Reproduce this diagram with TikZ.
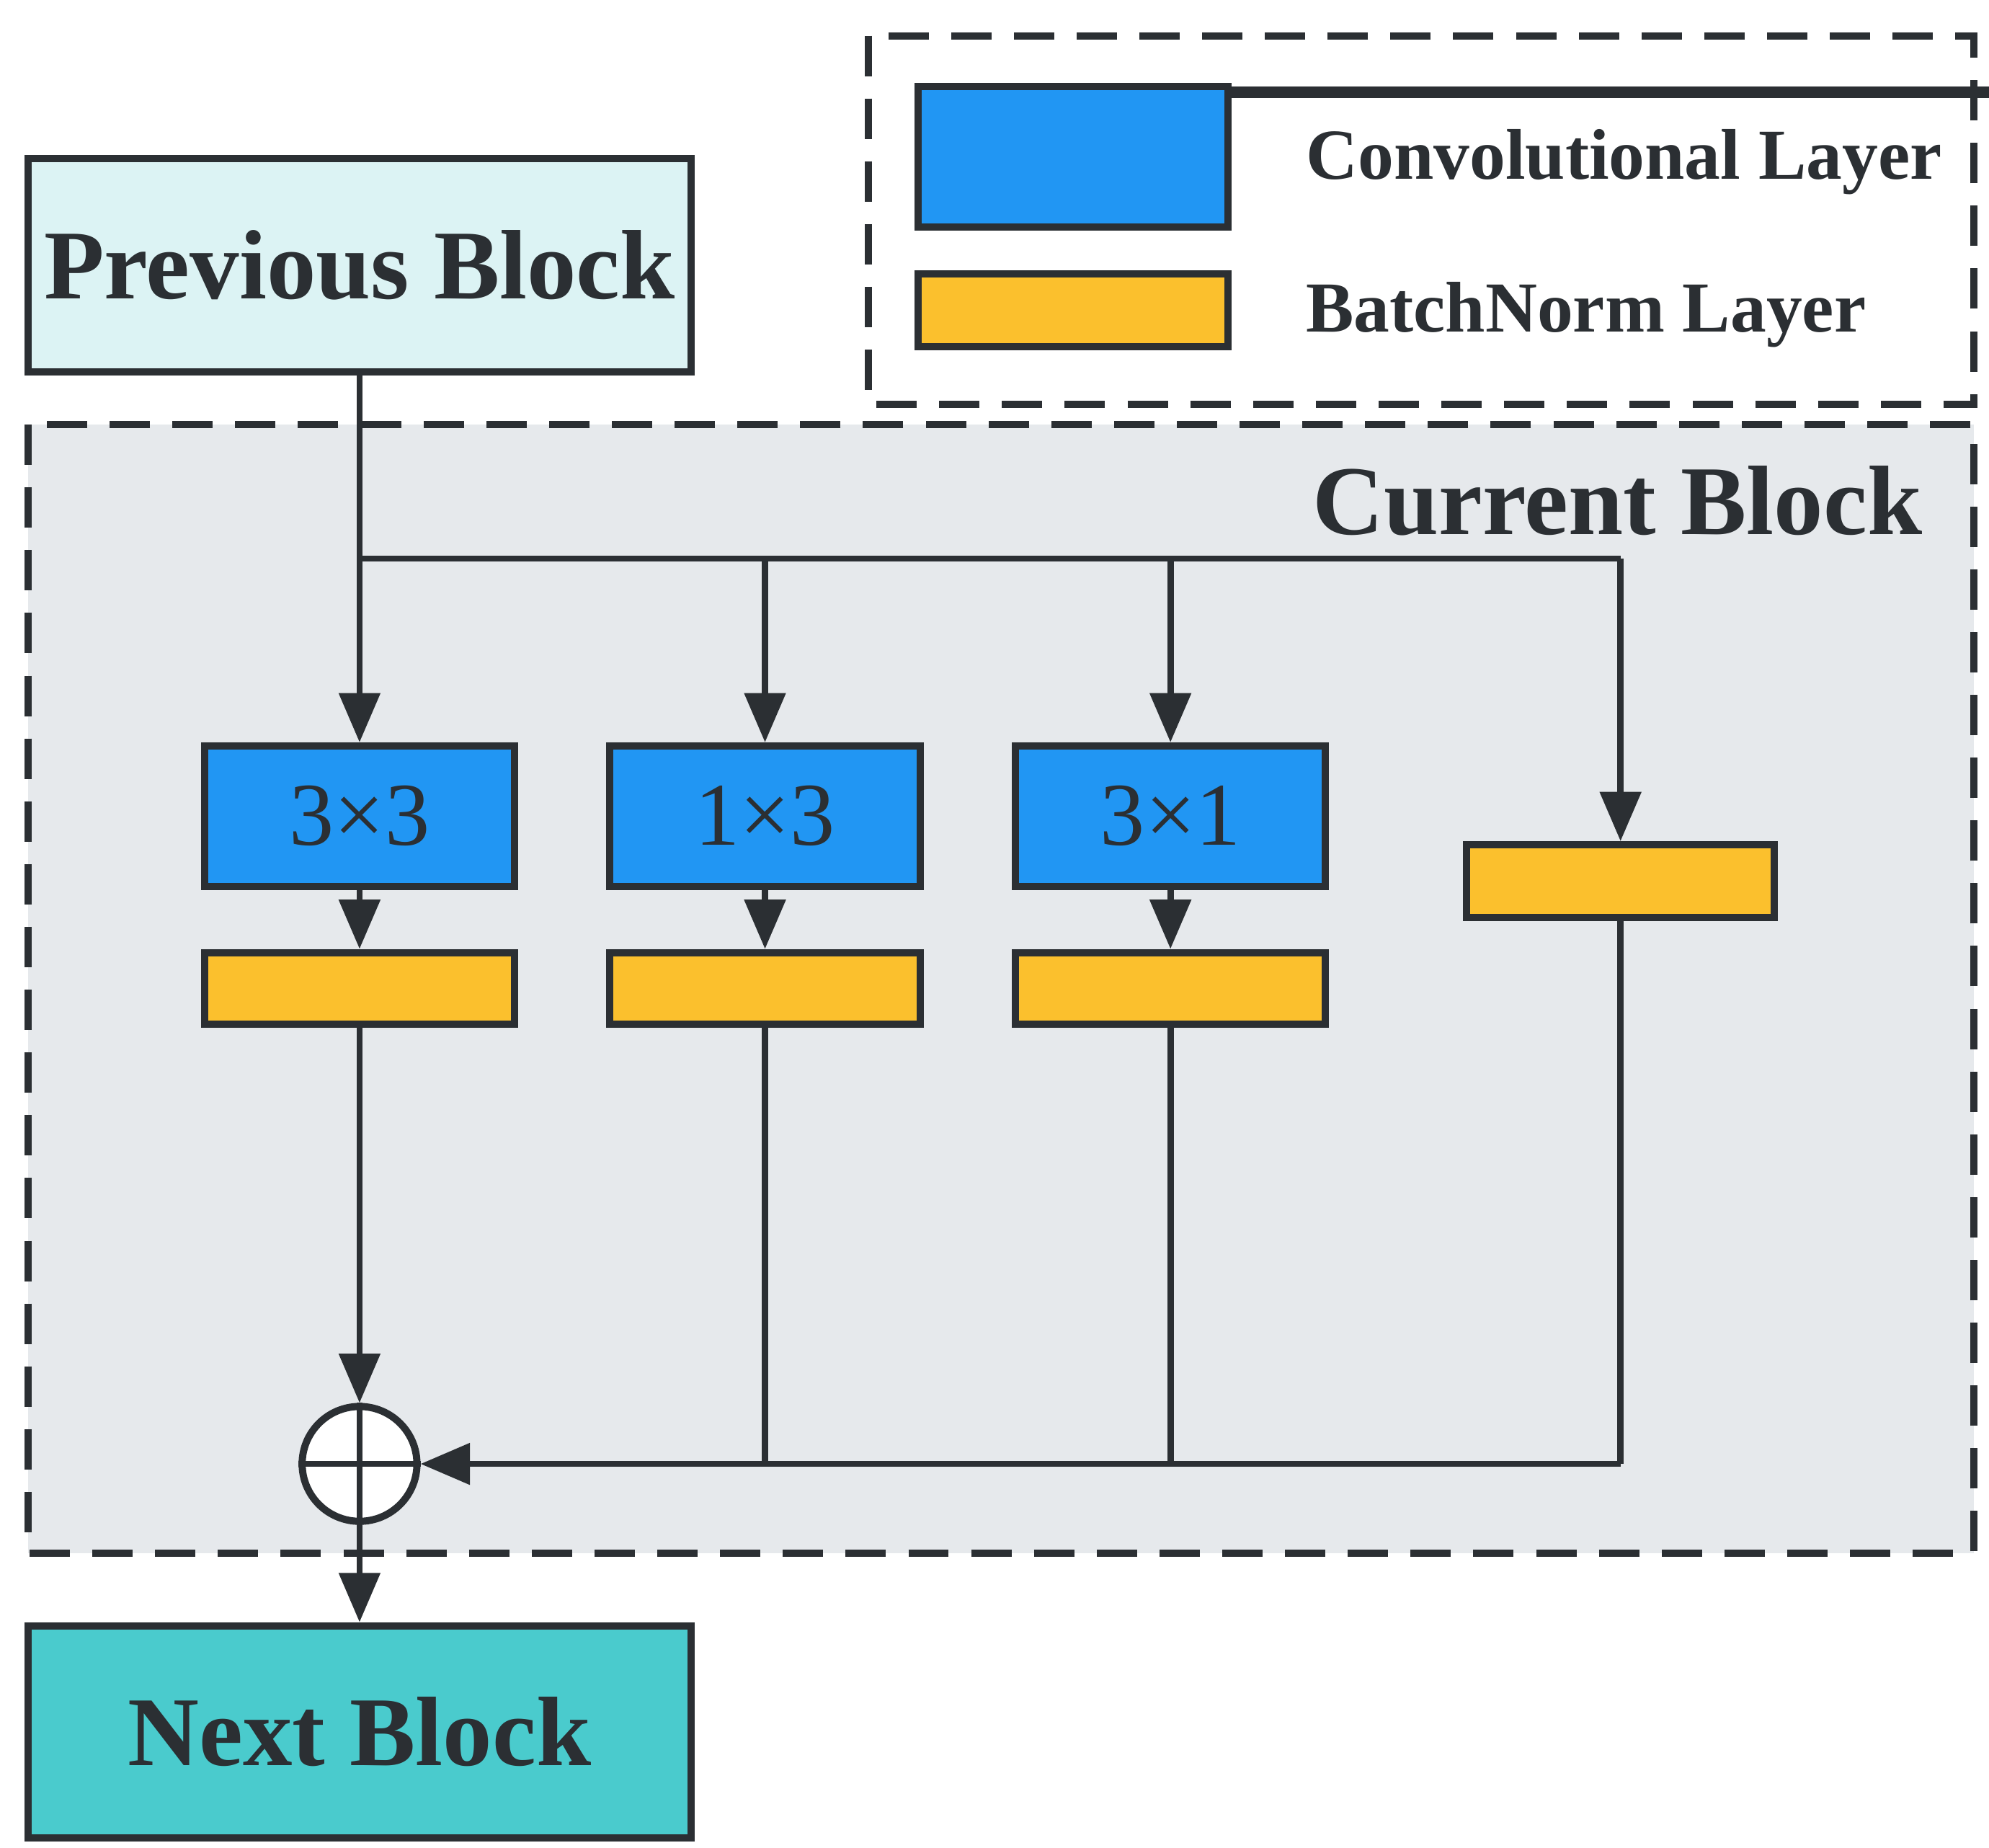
\documentclass[tikz,border=0pt]{standalone}
\usepackage{fontspec}
\setmainfont{Liberation Serif}
\usetikzlibrary{arrows.meta}
\definecolor{ln}{HTML}{2B2F33}
\definecolor{conv}{HTML}{2196F3}
\definecolor{bn}{HTML}{FBC02D}
\definecolor{prev}{HTML}{DCF3F4}
\definecolor{nextc}{HTML}{4ACBCD}
\definecolor{cur}{HTML}{E6E9EC}
\begin{document}
\begin{tikzpicture}[x=0.01cm,y=-0.01cm,
 box/.style={draw=ln,line width=1.6pt,inner sep=0pt},
 dbox/.style={draw=ln,line width=1.6pt,dash pattern=on 9pt off 5pt},
 conn/.style={draw=ln,line width=1.4pt},
 arr/.style={conn,-{Triangle[length=11pt,width=9pt]}},
 big/.style={font=\fontsize{22}{26}\selectfont\bfseries,text=ln},
 leg/.style={font=\fontsize{16}{19}\selectfont\bfseries,text=ln,anchor=west},
 num/.style={font=\fontsize{20}{24}\selectfont,text=ln}]
\useasboundingbox (0,0) rectangle (1560,1449);
% legend
\draw[dbox,fill=white] (681,28) rectangle (1548,317);
\node[box,fill=conv,minimum width=243\pgflinewidth,anchor=north west] (lc) at (720,68) {};
\path[box,fill=conv,draw=ln] (720,68) rectangle (963,178);
\path[box,fill=bn,draw=ln] (720,215) rectangle (963,272);
\node[leg] (lt1) at (1012,127) {Convolutional Layer};
\node[leg] (lt2) at (1012,247) {BatchNorm Layer};
% current block
\draw[dbox,fill=cur] (22,333) rectangle (1548,1218);
\node[big,anchor=east] (cb) at (1520,393) {Current Block};
% previous/next
\node[box,fill=prev,minimum width=5.2cm,minimum height=1.67cm,big] (prev) at (282,208) {Previous Block};
\node[box,fill=nextc,minimum width=5.2cm,minimum height=1.66cm,big] (next) at (282,1358) {Next Block};
% conv
\foreach \n/\x/\t in {c1/282/3×3,c2/600/1×3,c3/918/3×1}{
 \node[box,fill=conv,minimum width=2.43cm,minimum height=1.1cm,num] (\n) at (\x,640) {\t};
 \node[box,fill=bn,minimum width=2.43cm,minimum height=0.56cm] (b\n) at (\x,775) {};
 \draw[arr] (\n) -- (b\n);
}
\node[box,fill=bn,minimum width=2.41cm,minimum height=0.57cm] (b4) at (1271,691) {};
\node[circle,draw=ln,line width=1.6pt,fill=white,minimum size=0.9cm,inner sep=0pt] (sum) at (282,1148) {};
\draw[conn] (sum.north) -- (sum.south) (sum.west) -- (sum.east);
% connectors
\coordinate (j0) at (282,438);
\coordinate (j4) at (1271,438);
\coordinate (k2) at (600,1148);
\coordinate (k3) at (918,1148);
\coordinate (k4) at (1271,1148);
\draw[arr] (prev) -- (c1);
\draw[conn] (j0) -- (j4);
\draw[arr] (j4) -- (b4);
\draw[arr] (c2 |- j0) -- (c2);
\draw[arr] (c3 |- j0) -- (c3);
\draw[arr] (bc1) -- (sum);
\draw[conn] (bc2) -- (k2);
\draw[conn] (bc3) -- (k3);
\draw[conn] (b4) -- (k4);
\draw[arr] (k4) -- (sum);
\draw[arr] (sum) -- (next);
\end{tikzpicture}
\end{document}
